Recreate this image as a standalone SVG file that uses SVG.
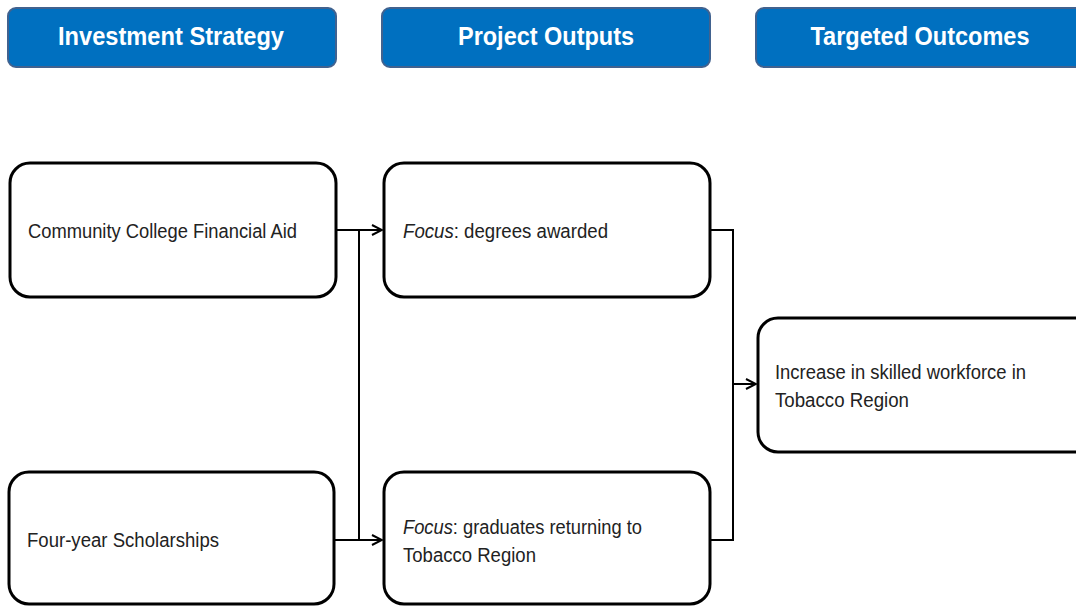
<svg xmlns="http://www.w3.org/2000/svg" width="1076" height="606" viewBox="0 0 1076 606">
<defs>
<style>
.hdr{fill:#0070C0;stroke:#41628F;stroke-width:2}
.hdrt{font-family:"Liberation Sans",Arial,sans-serif;font-weight:bold;font-size:25px;fill:#fff;text-anchor:middle}
.box{fill:#fff;stroke:#000;stroke-width:3}
.t{font-family:"Liberation Sans",Arial,sans-serif;font-size:20px;fill:#222}
.c{fill:none;stroke:#000;stroke-width:2}
</style>
<marker id="arr" viewBox="0 0 12 12" refX="11" refY="6" markerWidth="12" markerHeight="12" markerUnits="userSpaceOnUse" orient="auto">
<path d="M1,1 L11,6 L1,11" fill="none" stroke="#000" stroke-width="2"/>
</marker>
</defs>
<rect width="1076" height="606" fill="#fff"/>
<g id="h1"><rect class="hdr" x="8" y="8" width="328" height="59" rx="8"/><text class="hdrt" x="171" y="45" textLength="226" lengthAdjust="spacingAndGlyphs">Investment Strategy</text></g>
<g id="h2"><rect class="hdr" x="382" y="8" width="328" height="59" rx="8"/><text class="hdrt" x="546" y="45" textLength="176" lengthAdjust="spacingAndGlyphs">Project Outputs</text></g>
<g id="h3"><rect class="hdr" x="756" y="8" width="340" height="59" rx="8"/><text class="hdrt" x="920" y="45" textLength="219" lengthAdjust="spacingAndGlyphs">Targeted Outcomes</text></g>

<g id="connectors">
<path class="c" d="M336,230 H382" marker-end="url(#arr)"/>
<path class="c" d="M334,540 H382" marker-end="url(#arr)"/>
<path class="c" d="M359,230 V540"/>
<path class="c" d="M710,230 H733 V540 H710"/>
<path class="c" d="M733,384 H756" marker-end="url(#arr)"/>
</g>

<g id="n1"><rect class="box" x="10" y="163" width="326" height="134" rx="20"/><text class="t" x="28" y="238" textLength="269" lengthAdjust="spacingAndGlyphs">Community College Financial Aid</text></g>
<g id="n2"><rect class="box" x="9" y="472" width="325" height="132" rx="20"/><text class="t" x="27" y="547" textLength="192" lengthAdjust="spacingAndGlyphs">Four-year Scholarships</text></g>
<g id="n3"><rect class="box" x="384" y="163" width="326" height="134" rx="20"/><text class="t" x="403" y="238" textLength="205" lengthAdjust="spacingAndGlyphs"><tspan font-style="italic">Focus</tspan>: degrees awarded</text></g>
<g id="n4"><rect class="box" x="384" y="472" width="326" height="132" rx="20"/><text class="t" x="403" y="534" textLength="239" lengthAdjust="spacingAndGlyphs"><tspan font-style="italic">Focus</tspan>: graduates returning to</text><text class="t" x="403" y="562" textLength="133" lengthAdjust="spacingAndGlyphs">Tobacco Region</text></g>
<g id="n5"><rect class="box" x="758" y="318" width="340" height="134" rx="20"/><text class="t" x="775" y="379" textLength="251" lengthAdjust="spacingAndGlyphs">Increase in skilled workforce in</text><text class="t" x="775" y="407" textLength="134" lengthAdjust="spacingAndGlyphs">Tobacco Region</text></g>
</svg>
